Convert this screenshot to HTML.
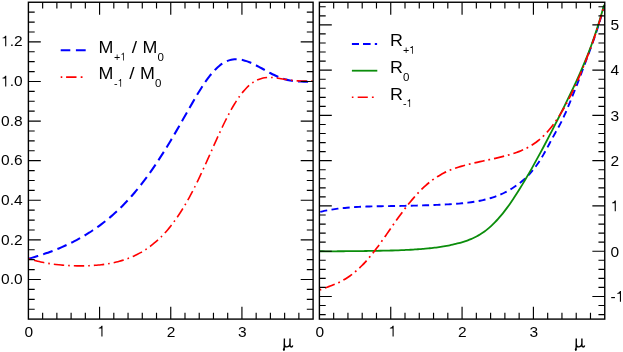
<!DOCTYPE html>
<html><head><meta charset="utf-8"><title>plot</title>
<style>html,body{margin:0;padding:0;background:#fff;}body{width:623px;height:352px;overflow:hidden;}svg{display:block;}text{font-family:"Liberation Sans",sans-serif;fill:#000;}</style></head><body>
<svg width="623" height="352" viewBox="0 0 623 352">
<rect x="0" y="0" width="623" height="352" fill="#fff"/>
<path d="M28.60,258.69C29.10,258.55 30.62,258.15 31.63,257.87C32.63,257.58 33.64,257.30 34.65,257.00C35.66,256.70 36.67,256.40 37.68,256.09C38.69,255.78 39.69,255.46 40.70,255.14C41.71,254.81 42.72,254.48 43.73,254.14C44.74,253.80 45.74,253.45 46.75,253.09C47.76,252.74 48.77,252.37 49.78,252.00C50.79,251.63 51.80,251.25 52.80,250.86C53.81,250.47 54.82,250.08 55.83,249.67C56.84,249.27 57.85,248.85 58.86,248.43C59.86,248.01 60.87,247.58 61.88,247.14C62.89,246.70 63.90,246.25 64.91,245.79C65.91,245.33 66.92,244.86 67.93,244.38C68.94,243.90 69.95,243.41 70.96,242.91C71.97,242.41 72.97,241.91 73.98,241.38C74.99,240.86 76.00,240.33 77.01,239.79C78.02,239.25 79.03,238.70 80.03,238.13C81.04,237.57 82.05,236.99 83.06,236.40C84.07,235.81 85.08,235.21 86.09,234.60C87.09,233.98 88.10,233.36 89.11,232.72C90.12,232.08 91.13,231.42 92.14,230.76C93.14,230.09 94.15,229.41 95.16,228.71C96.17,228.02 97.18,227.31 98.19,226.58C99.20,225.86 100.20,225.12 101.21,224.36C102.22,223.60 103.23,222.83 104.24,222.05C105.25,221.26 106.26,220.45 107.26,219.63C108.27,218.81 109.28,217.97 110.29,217.11C111.30,216.26 112.31,215.38 113.31,214.49C114.32,213.60 115.33,212.69 116.34,211.75C117.35,210.82 118.36,209.87 119.37,208.90C120.37,207.93 121.38,206.94 122.39,205.93C123.40,204.92 124.41,203.88 125.42,202.83C126.43,201.77 127.43,200.70 128.44,199.60C129.45,198.50 130.46,197.38 131.47,196.23C132.48,195.09 133.49,193.92 134.49,192.73C135.50,191.54 136.51,190.33 137.52,189.10C138.53,187.86 139.54,186.60 140.54,185.32C141.55,184.04 142.56,182.74 143.57,181.41C144.58,180.08 145.59,178.73 146.60,177.36C147.60,175.99 148.61,174.59 149.62,173.17C150.63,171.76 151.64,170.32 152.65,168.86C153.66,167.40 154.66,165.91 155.67,164.41C156.68,162.91 157.69,161.38 158.70,159.84C159.71,158.30 160.71,156.73 161.72,155.15C162.73,153.57 163.74,151.96 164.75,150.35C165.76,148.73 166.77,147.09 167.77,145.43C168.78,143.78 169.79,142.11 170.80,140.42C171.81,138.74 172.82,137.04 173.83,135.32C174.83,133.61 175.84,131.88 176.85,130.14C177.86,128.40 178.87,126.65 179.88,124.89C180.89,123.13 181.89,121.36 182.90,119.58C183.91,117.81 184.92,116.03 185.93,114.25C186.94,112.48 187.94,110.69 188.95,108.92C189.96,107.15 190.97,105.38 191.98,103.63C192.99,101.88 194.00,100.14 195.00,98.42C196.01,96.70 197.02,95.00 198.03,93.34C199.04,91.67 200.05,90.03 201.06,88.44C202.06,86.84 203.07,85.28 204.08,83.78C205.09,82.28 206.10,80.82 207.11,79.42C208.11,78.03 209.12,76.69 210.13,75.43C211.14,74.16 212.15,72.95 213.16,71.83C214.17,70.70 215.17,69.64 216.18,68.66C217.19,67.68 218.20,66.77 219.21,65.95C220.22,65.12 221.23,64.37 222.23,63.71C223.24,63.04 224.25,62.45 225.26,61.93C226.27,61.42 227.28,60.99 228.29,60.63C229.29,60.27 230.30,59.99 231.31,59.77C232.32,59.56 233.33,59.42 234.34,59.34C235.34,59.26 236.35,59.25 237.36,59.30C238.37,59.34 239.38,59.45 240.39,59.60C241.40,59.76 242.40,59.97 243.41,60.22C244.42,60.47 245.43,60.77 246.44,61.11C247.45,61.44 248.46,61.82 249.46,62.23C250.47,62.64 251.48,63.08 252.49,63.54C253.50,64.01 254.51,64.50 255.51,65.01C256.52,65.52 257.53,66.05 258.54,66.59C259.55,67.13 260.56,67.69 261.57,68.25C262.57,68.81 263.58,69.38 264.59,69.94C265.60,70.50 266.61,71.06 267.62,71.62C268.63,72.17 269.63,72.72 270.64,73.25C271.65,73.77 272.66,74.29 273.67,74.79C274.68,75.28 275.69,75.76 276.69,76.21C277.70,76.65 278.71,77.08 279.72,77.47C280.73,77.87 281.74,78.24 282.74,78.57C283.75,78.91 284.76,79.22 285.77,79.49C286.78,79.77 287.79,80.01 288.80,80.23C289.80,80.45 290.81,80.63 291.82,80.79C292.83,80.95 293.84,81.08 294.85,81.19C295.86,81.29 296.86,81.37 297.87,81.44C298.88,81.50 299.89,81.54 300.90,81.57C301.91,81.60 302.91,81.62 303.92,81.63C304.93,81.64 305.94,81.64 306.95,81.65C307.96,81.66 308.97,81.66 309.97,81.69C310.98,81.71 312.50,81.78 313.00,81.80" fill="none" stroke="#0000ff" stroke-width="2.05" stroke-dasharray="10 5.2" stroke-dashoffset="0"/>
<path d="M28.60,258.69C29.10,258.84 30.62,259.32 31.63,259.62C32.63,259.92 33.64,260.20 34.65,260.47C35.66,260.74 36.67,260.99 37.68,261.24C38.69,261.48 39.69,261.71 40.70,261.93C41.71,262.15 42.72,262.36 43.73,262.55C44.74,262.75 45.74,262.94 46.75,263.11C47.76,263.29 48.77,263.46 49.78,263.61C50.79,263.77 51.80,263.92 52.80,264.06C53.81,264.20 54.82,264.33 55.83,264.45C56.84,264.57 57.85,264.68 58.86,264.79C59.86,264.89 60.87,264.99 61.88,265.08C62.89,265.17 63.90,265.25 64.91,265.33C65.91,265.40 66.92,265.47 67.93,265.53C68.94,265.59 69.95,265.64 70.96,265.68C71.97,265.73 72.97,265.77 73.98,265.80C74.99,265.83 76.00,265.85 77.01,265.87C78.02,265.88 79.03,265.89 80.03,265.89C81.04,265.89 82.05,265.89 83.06,265.87C84.07,265.86 85.08,265.84 86.09,265.81C87.09,265.78 88.10,265.74 89.11,265.70C90.12,265.65 91.13,265.60 92.14,265.54C93.14,265.47 94.15,265.40 95.16,265.32C96.17,265.24 97.18,265.15 98.19,265.05C99.20,264.96 100.20,264.85 101.21,264.73C102.22,264.61 103.23,264.48 104.24,264.34C105.25,264.19 106.26,264.04 107.26,263.88C108.27,263.71 109.28,263.54 110.29,263.35C111.30,263.16 112.31,262.95 113.31,262.74C114.32,262.52 115.33,262.29 116.34,262.05C117.35,261.80 118.36,261.54 119.37,261.26C120.37,260.99 121.38,260.69 122.39,260.38C123.40,260.07 124.41,259.75 125.42,259.40C126.43,259.06 127.43,258.69 128.44,258.31C129.45,257.92 130.46,257.52 131.47,257.10C132.48,256.67 133.49,256.22 134.49,255.75C135.50,255.28 136.51,254.79 137.52,254.28C138.53,253.76 139.54,253.22 140.54,252.65C141.55,252.08 142.56,251.49 143.57,250.87C144.58,250.25 145.59,249.60 146.60,248.92C147.60,248.24 148.61,247.54 149.62,246.80C150.63,246.06 151.64,245.29 152.65,244.48C153.66,243.68 154.66,242.84 155.67,241.97C156.68,241.10 157.69,240.19 158.70,239.24C159.71,238.30 160.71,237.31 161.72,236.29C162.73,235.27 163.74,234.21 164.75,233.10C165.76,232.00 166.77,230.85 167.77,229.67C168.78,228.48 169.79,227.25 170.80,225.98C171.81,224.70 172.82,223.38 173.83,222.02C174.83,220.66 175.84,219.25 176.85,217.79C177.86,216.34 178.87,214.84 179.88,213.29C180.89,211.74 181.89,210.14 182.90,208.50C183.91,206.86 184.92,205.17 185.93,203.43C186.94,201.69 187.94,199.90 188.95,198.07C189.96,196.23 190.97,194.35 191.98,192.42C192.99,190.50 194.00,188.52 195.00,186.51C196.01,184.50 197.02,182.44 198.03,180.35C199.04,178.26 200.05,176.12 201.06,173.96C202.06,171.81 203.07,169.61 204.08,167.40C205.09,165.19 206.10,162.95 207.11,160.70C208.11,158.45 209.12,156.18 210.13,153.92C211.14,151.65 212.15,149.37 213.16,147.11C214.17,144.85 215.17,142.58 216.18,140.35C217.19,138.11 218.20,135.88 219.21,133.69C220.22,131.50 221.23,129.34 222.23,127.22C223.24,125.10 224.25,123.01 225.26,120.99C226.27,118.96 227.28,116.97 228.29,115.06C229.29,113.14 230.30,111.27 231.31,109.47C232.32,107.68 233.33,105.94 234.34,104.28C235.34,102.62 236.35,101.03 237.36,99.51C238.37,98.00 239.38,96.56 240.39,95.20C241.40,93.84 242.40,92.56 243.41,91.36C244.42,90.16 245.43,89.05 246.44,88.01C247.45,86.97 248.46,86.02 249.46,85.15C250.47,84.28 251.48,83.49 252.49,82.78C253.50,82.06 254.51,81.43 255.51,80.88C256.52,80.32 257.53,79.84 258.54,79.43C259.55,79.02 260.56,78.68 261.57,78.41C262.57,78.13 263.58,77.92 264.59,77.77C265.60,77.61 266.61,77.52 267.62,77.47C268.63,77.42 269.63,77.42 270.64,77.45C271.65,77.48 272.66,77.56 273.67,77.66C274.68,77.75 275.69,77.88 276.69,78.02C277.70,78.15 278.71,78.31 279.72,78.47C280.73,78.62 281.74,78.79 282.74,78.96C283.75,79.12 284.76,79.29 285.77,79.45C286.78,79.60 287.79,79.76 288.80,79.90C289.80,80.04 290.81,80.17 291.82,80.29C292.83,80.41 293.84,80.52 294.85,80.61C295.86,80.71 296.86,80.79 297.87,80.85C298.88,80.92 299.89,80.97 300.90,81.01C301.91,81.06 302.91,81.09 303.92,81.11C304.93,81.14 305.94,81.15 306.95,81.17C307.96,81.19 308.97,81.20 309.97,81.22C310.98,81.24 312.50,81.28 313.00,81.30" fill="none" stroke="#ff0000" stroke-width="1.6" stroke-dasharray="1.6 4.05 10.4 4.0" stroke-dashoffset="-0.15"/>
<path d="M319.60,212.09C320.10,211.96 321.62,211.59 322.63,211.35C323.64,211.12 324.65,210.90 325.66,210.69C326.67,210.49 327.68,210.29 328.69,210.10C329.70,209.91 330.71,209.74 331.71,209.57C332.72,209.40 333.73,209.24 334.74,209.09C335.75,208.94 336.76,208.80 337.77,208.67C338.78,208.54 339.79,208.41 340.80,208.29C341.81,208.18 342.82,208.07 343.83,207.97C344.84,207.86 345.85,207.77 346.86,207.68C347.87,207.59 348.88,207.50 349.89,207.42C350.90,207.34 351.91,207.27 352.92,207.20C353.93,207.14 354.94,207.07 355.94,207.02C356.95,206.96 357.96,206.90 358.97,206.85C359.98,206.80 360.99,206.76 362.00,206.71C363.01,206.67 364.02,206.63 365.03,206.60C366.04,206.56 367.05,206.53 368.06,206.49C369.07,206.46 370.08,206.44 371.09,206.41C372.10,206.38 373.11,206.36 374.12,206.34C375.13,206.31 376.14,206.29 377.15,206.27C378.16,206.25 379.16,206.24 380.17,206.22C381.18,206.20 382.19,206.19 383.20,206.17C384.21,206.15 385.22,206.14 386.23,206.12C387.24,206.11 388.25,206.10 389.26,206.08C390.27,206.07 391.28,206.05 392.29,206.04C393.30,206.03 394.31,206.01 395.32,206.00C396.33,205.98 397.34,205.97 398.35,205.95C399.36,205.94 400.37,205.92 401.38,205.91C402.39,205.89 403.39,205.87 404.40,205.85C405.41,205.83 406.42,205.82 407.43,205.80C408.44,205.78 409.45,205.75 410.46,205.73C411.47,205.71 412.48,205.69 413.49,205.66C414.50,205.64 415.51,205.61 416.52,205.59C417.53,205.56 418.54,205.53 419.55,205.50C420.56,205.48 421.57,205.45 422.58,205.41C423.59,205.38 424.60,205.35 425.61,205.32C426.61,205.28 427.62,205.25 428.63,205.21C429.64,205.18 430.65,205.14 431.66,205.10C432.67,205.07 433.68,205.03 434.69,204.99C435.70,204.95 436.71,204.90 437.72,204.86C438.73,204.82 439.74,204.77 440.75,204.73C441.76,204.68 442.77,204.63 443.78,204.58C444.79,204.53 445.80,204.48 446.81,204.42C447.82,204.36 448.83,204.30 449.84,204.24C450.84,204.18 451.85,204.12 452.86,204.05C453.87,203.98 454.88,203.91 455.89,203.83C456.90,203.75 457.91,203.67 458.92,203.59C459.93,203.50 460.94,203.41 461.95,203.31C462.96,203.21 463.97,203.11 464.98,203.00C465.99,202.89 467.00,202.77 468.01,202.65C469.02,202.52 470.03,202.39 471.04,202.25C472.05,202.11 473.06,201.96 474.06,201.80C475.07,201.63 476.08,201.47 477.09,201.28C478.10,201.10 479.11,200.91 480.12,200.71C481.13,200.50 482.14,200.29 483.15,200.06C484.16,199.83 485.17,199.58 486.18,199.32C487.19,199.06 488.20,198.79 489.21,198.50C490.22,198.21 491.23,197.91 492.24,197.58C493.25,197.26 494.26,196.92 495.27,196.55C496.28,196.19 497.29,195.81 498.29,195.41C499.30,195.01 500.31,194.58 501.32,194.14C502.33,193.69 503.34,193.22 504.35,192.73C505.36,192.23 506.37,191.71 507.38,191.17C508.39,190.62 509.40,190.05 510.41,189.45C511.42,188.85 512.43,188.22 513.44,187.56C514.45,186.90 515.46,186.21 516.47,185.49C517.48,184.77 518.49,184.01 519.50,183.22C520.51,182.43 521.51,181.60 522.52,180.73C523.53,179.86 524.54,178.95 525.55,177.99C526.56,177.03 527.57,176.03 528.58,174.97C529.59,173.91 530.60,172.81 531.61,171.63C532.62,170.46 533.63,169.23 534.64,167.92C535.65,166.61 536.66,165.25 537.67,163.79C538.68,162.33 539.69,160.80 540.70,159.19C541.71,157.58 542.72,155.87 543.73,154.12C544.74,152.37 545.74,150.53 546.75,148.68C547.76,146.83 548.77,144.90 549.78,143.02C550.79,141.13 551.80,139.23 552.81,137.37C553.82,135.52 554.83,133.71 555.84,131.89C556.85,130.08 557.86,128.33 558.87,126.47C559.88,124.61 560.89,122.76 561.90,120.72C562.91,118.68 563.92,116.49 564.93,114.22C565.94,111.95 566.95,109.51 567.96,107.09C568.96,104.67 569.97,102.18 570.98,99.71C571.99,97.23 573.00,94.76 574.01,92.23C575.02,89.71 576.03,87.16 577.04,84.56C578.05,81.97 579.06,79.32 580.07,76.67C581.08,74.01 582.09,71.31 583.10,68.62C584.11,65.92 585.12,63.21 586.13,60.49C587.14,57.78 588.15,55.06 589.16,52.30C590.17,49.55 591.18,46.80 592.19,43.99C593.19,41.17 594.20,38.35 595.21,35.41C596.22,32.46 597.23,29.49 598.24,26.31C599.25,23.13 600.26,19.88 601.27,16.33C602.28,12.78 603.80,6.89 604.30,5.00" fill="none" stroke="#0000ff" stroke-width="1.9" stroke-dasharray="7 4.35" stroke-dashoffset="-0.8"/>
<path d="M319.60,251.25C320.10,251.25 321.62,251.26 322.63,251.27C323.63,251.28 324.64,251.28 325.65,251.28C326.66,251.29 327.67,251.29 328.68,251.29C329.69,251.29 330.69,251.29 331.70,251.29C332.71,251.29 333.72,251.28 334.73,251.28C335.74,251.28 336.74,251.27 337.75,251.27C338.76,251.26 339.77,251.26 340.78,251.25C341.79,251.25 342.80,251.24 343.80,251.23C344.81,251.22 345.82,251.22 346.83,251.21C347.84,251.20 348.85,251.19 349.86,251.18C350.86,251.17 351.87,251.16 352.88,251.15C353.89,251.14 354.90,251.13 355.91,251.12C356.91,251.11 357.92,251.10 358.93,251.09C359.94,251.07 360.95,251.06 361.96,251.05C362.97,251.04 363.97,251.02 364.98,251.01C365.99,251.00 367.00,250.98 368.01,250.97C369.02,250.95 370.03,250.94 371.03,250.92C372.04,250.91 373.05,250.89 374.06,250.88C375.07,250.86 376.08,250.84 377.09,250.82C378.09,250.81 379.10,250.79 380.11,250.77C381.12,250.75 382.13,250.73 383.14,250.71C384.14,250.68 385.15,250.66 386.16,250.64C387.17,250.61 388.18,250.59 389.19,250.56C390.20,250.54 391.20,250.51 392.21,250.48C393.22,250.45 394.23,250.42 395.24,250.39C396.25,250.36 397.26,250.32 398.26,250.29C399.27,250.25 400.28,250.21 401.29,250.17C402.30,250.13 403.31,250.09 404.31,250.05C405.32,250.00 406.33,249.95 407.34,249.90C408.35,249.85 409.36,249.80 410.37,249.75C411.37,249.69 412.38,249.63 413.39,249.57C414.40,249.51 415.41,249.44 416.42,249.38C417.43,249.31 418.43,249.23 419.44,249.16C420.45,249.08 421.46,249.00 422.47,248.92C423.48,248.83 424.49,248.75 425.49,248.65C426.50,248.56 427.51,248.46 428.52,248.36C429.53,248.25 430.54,248.15 431.54,248.03C432.55,247.92 433.56,247.80 434.57,247.67C435.58,247.55 436.59,247.42 437.60,247.28C438.60,247.14 439.61,247.00 440.62,246.85C441.63,246.70 442.64,246.54 443.65,246.38C444.66,246.21 445.66,246.04 446.67,245.86C447.68,245.68 448.69,245.50 449.70,245.30C450.71,245.10 451.71,244.89 452.72,244.67C453.73,244.45 454.74,244.23 455.75,243.98C456.76,243.74 457.77,243.49 458.77,243.22C459.78,242.95 460.79,242.66 461.80,242.36C462.81,242.06 463.82,241.74 464.83,241.40C465.83,241.06 466.84,240.71 467.85,240.33C468.86,239.95 469.87,239.55 470.88,239.12C471.89,238.69 472.89,238.24 473.90,237.76C474.91,237.27 475.92,236.76 476.93,236.22C477.94,235.67 478.94,235.10 479.95,234.49C480.96,233.88 481.97,233.23 482.98,232.54C483.99,231.85 485.00,231.12 486.00,230.35C487.01,229.58 488.02,228.77 489.03,227.91C490.04,227.05 491.05,226.14 492.06,225.20C493.06,224.25 494.07,223.25 495.08,222.21C496.09,221.17 497.10,220.09 498.11,218.96C499.11,217.83 500.12,216.65 501.13,215.44C502.14,214.22 503.15,212.96 504.16,211.66C505.17,210.36 506.17,209.02 507.18,207.65C508.19,206.27 509.20,204.86 510.21,203.41C511.22,201.97 512.23,200.49 513.23,198.98C514.24,197.47 515.25,195.93 516.26,194.36C517.27,192.80 518.28,191.20 519.29,189.58C520.29,187.96 521.30,186.31 522.31,184.65C523.32,182.98 524.33,181.29 525.34,179.58C526.34,177.87 527.35,176.14 528.36,174.39C529.37,172.64 530.38,170.87 531.39,169.08C532.40,167.30 533.40,165.50 534.41,163.68C535.42,161.87 536.43,160.03 537.44,158.19C538.45,156.34 539.46,154.48 540.46,152.61C541.47,150.74 542.48,148.86 543.49,146.96C544.50,145.07 545.51,143.16 546.51,141.24C547.52,139.32 548.53,137.39 549.54,135.45C550.55,133.52 551.56,131.57 552.57,129.61C553.57,127.65 554.58,125.68 555.59,123.70C556.60,121.72 557.61,119.73 558.62,117.74C559.63,115.74 560.63,113.73 561.64,111.71C562.65,109.69 563.66,107.67 564.67,105.63C565.68,103.59 566.69,101.54 567.69,99.47C568.70,97.40 569.71,95.33 570.72,93.22C571.73,91.12 572.74,89.01 573.74,86.86C574.75,84.71 575.76,82.55 576.77,80.35C577.78,78.14 578.79,75.91 579.80,73.64C580.80,71.36 581.81,69.05 582.82,66.68C583.83,64.31 584.84,61.90 585.85,59.42C586.86,56.94 587.86,54.40 588.87,51.78C589.88,49.16 590.89,46.48 591.90,43.69C592.91,40.91 593.91,38.05 594.92,35.07C595.93,32.09 596.94,29.03 597.95,25.82C598.96,22.61 599.97,19.30 600.97,15.84C601.98,12.37 603.50,6.82 604.00,5.02" fill="none" stroke="#0b8d0b" stroke-width="1.8"/>
<path d="M319.60,290.01C320.10,289.81 321.62,289.23 322.63,288.85C323.64,288.47 324.65,288.11 325.66,287.74C326.67,287.37 327.68,287.01 328.69,286.64C329.70,286.27 330.71,285.89 331.71,285.50C332.72,285.10 333.73,284.70 334.74,284.28C335.75,283.85 336.76,283.41 337.77,282.94C338.78,282.47 339.79,281.98 340.80,281.46C341.81,280.94 342.82,280.40 343.83,279.82C344.84,279.24 345.85,278.63 346.86,277.98C347.87,277.34 348.88,276.66 349.89,275.94C350.90,275.22 351.91,274.47 352.92,273.68C353.93,272.89 354.94,272.06 355.94,271.19C356.95,270.32 357.96,269.41 358.97,268.46C359.98,267.52 360.99,266.53 362.00,265.50C363.01,264.48 364.02,263.42 365.03,262.32C366.04,261.22 367.05,260.08 368.06,258.91C369.07,257.74 370.08,256.54 371.09,255.30C372.10,254.06 373.11,252.79 374.12,251.50C375.13,250.20 376.14,248.87 377.15,247.52C378.16,246.18 379.16,244.80 380.17,243.41C381.18,242.02 382.19,240.60 383.20,239.18C384.21,237.76 385.22,236.32 386.23,234.88C387.24,233.43 388.25,231.98 389.26,230.53C390.27,229.08 391.28,227.63 392.29,226.18C393.30,224.73 394.31,223.29 395.32,221.86C396.33,220.43 397.34,219.00 398.35,217.60C399.36,216.19 400.37,214.80 401.38,213.42C402.39,212.05 403.39,210.69 404.40,209.36C405.41,208.03 406.42,206.72 407.43,205.44C408.44,204.16 409.45,202.90 410.46,201.67C411.47,200.44 412.48,199.24 413.49,198.07C414.50,196.90 415.51,195.76 416.52,194.65C417.53,193.54 418.54,192.47 419.55,191.43C420.56,190.39 421.57,189.38 422.58,188.41C423.59,187.44 424.60,186.50 425.61,185.60C426.61,184.70 427.62,183.83 428.63,183.00C429.64,182.17 430.65,181.37 431.66,180.61C432.67,179.84 433.68,179.12 434.69,178.42C435.70,177.73 436.71,177.06 437.72,176.43C438.73,175.80 439.74,175.21 440.75,174.64C441.76,174.07 442.77,173.53 443.78,173.02C444.79,172.50 445.80,172.02 446.81,171.56C447.82,171.10 448.83,170.66 449.84,170.24C450.84,169.83 451.85,169.43 452.86,169.06C453.87,168.68 454.88,168.32 455.89,167.98C456.90,167.64 457.91,167.31 458.92,167.00C459.93,166.68 460.94,166.39 461.95,166.10C462.96,165.81 463.97,165.53 464.98,165.26C465.99,164.99 467.00,164.73 468.01,164.48C469.02,164.23 470.03,163.98 471.04,163.74C472.05,163.50 473.06,163.26 474.06,163.03C475.07,162.80 476.08,162.57 477.09,162.35C478.10,162.12 479.11,161.90 480.12,161.68C481.13,161.45 482.14,161.23 483.15,161.01C484.16,160.79 485.17,160.57 486.18,160.35C487.19,160.13 488.20,159.91 489.21,159.68C490.22,159.46 491.23,159.24 492.24,159.01C493.25,158.78 494.26,158.56 495.27,158.32C496.28,158.09 497.29,157.86 498.29,157.62C499.30,157.38 500.31,157.14 501.32,156.89C502.33,156.64 503.34,156.39 504.35,156.13C505.36,155.86 506.37,155.60 507.38,155.32C508.39,155.04 509.40,154.75 510.41,154.45C511.42,154.15 512.43,153.84 513.44,153.51C514.45,153.18 515.46,152.84 516.47,152.48C517.48,152.12 518.49,151.75 519.50,151.35C520.51,150.95 521.51,150.53 522.52,150.08C523.53,149.64 524.54,149.17 525.55,148.67C526.56,148.17 527.57,147.65 528.58,147.09C529.59,146.53 530.60,145.94 531.61,145.30C532.62,144.67 533.63,144.01 534.64,143.30C535.65,142.59 536.66,141.84 537.67,141.04C538.68,140.24 539.69,139.40 540.70,138.51C541.71,137.61 542.72,136.67 543.73,135.68C544.74,134.68 545.74,133.63 546.75,132.53C547.76,131.43 548.77,130.27 549.78,129.05C550.79,127.84 551.80,126.56 552.81,125.23C553.82,123.90 554.83,122.51 555.84,121.06C556.85,119.60 557.86,118.09 558.87,116.52C559.88,114.95 560.89,113.32 561.90,111.62C562.91,109.93 563.92,108.18 564.93,106.36C565.94,104.55 566.95,102.67 567.96,100.74C568.96,98.81 569.97,96.81 570.98,94.76C571.99,92.71 573.00,90.60 574.01,88.44C575.02,86.28 576.03,84.06 577.04,81.78C578.05,79.51 579.06,77.18 580.07,74.80C581.08,72.43 582.09,70.00 583.10,67.52C584.11,65.04 585.12,62.51 586.13,59.93C587.14,57.35 588.15,54.72 589.16,52.01C590.17,49.31 591.18,46.56 592.19,43.73C593.19,40.89 594.20,37.99 595.21,34.99C596.22,31.99 597.23,28.92 598.24,25.72C599.25,22.51 600.26,19.23 601.27,15.78C602.28,12.33 603.80,6.83 604.30,5.04" fill="none" stroke="#ff0000" stroke-width="1.7" stroke-dasharray="1.8 4 10.4 3.86" stroke-dashoffset="0.05"/>
<path d="M42.64,319.1v-6.3M42.64,2.25v6.3M56.87,319.1v-6.3M56.87,2.25v6.3M71.11,319.1v-6.3M71.11,2.25v6.3M85.34,319.1v-6.3M85.34,2.25v6.3M113.81,319.1v-6.3M113.81,2.25v6.3M128.05,319.1v-6.3M128.05,2.25v6.3M142.28,319.1v-6.3M142.28,2.25v6.3M156.52,319.1v-6.3M156.52,2.25v6.3M184.99,319.1v-6.3M184.99,2.25v6.3M199.22,319.1v-6.3M199.22,2.25v6.3M213.46,319.1v-6.3M213.46,2.25v6.3M227.69,319.1v-6.3M227.69,2.25v6.3M256.16,319.1v-6.3M256.16,2.25v6.3M270.40,319.1v-6.3M270.40,2.25v6.3M284.63,319.1v-6.3M284.63,2.25v6.3M298.87,319.1v-6.3M298.87,2.25v6.3M28.4,309.20h6.3M313.1,309.20h-6.3M28.4,299.30h6.3M313.1,299.30h-6.3M28.4,289.40h6.3M313.1,289.40h-6.3M28.4,269.59h6.3M313.1,269.59h-6.3M28.4,259.69h6.3M313.1,259.69h-6.3M28.4,249.79h6.3M313.1,249.79h-6.3M28.4,229.99h6.3M313.1,229.99h-6.3M28.4,220.08h6.3M313.1,220.08h-6.3M28.4,210.18h6.3M313.1,210.18h-6.3M28.4,190.38h6.3M313.1,190.38h-6.3M28.4,180.48h6.3M313.1,180.48h-6.3M28.4,170.58h6.3M313.1,170.58h-6.3M28.4,150.77h6.3M313.1,150.77h-6.3M28.4,140.87h6.3M313.1,140.87h-6.3M28.4,130.97h6.3M313.1,130.97h-6.3M28.4,111.17h6.3M313.1,111.17h-6.3M28.4,101.27h6.3M313.1,101.27h-6.3M28.4,91.36h6.3M313.1,91.36h-6.3M28.4,71.56h6.3M313.1,71.56h-6.3M28.4,61.66h6.3M313.1,61.66h-6.3M28.4,51.76h6.3M313.1,51.76h-6.3M28.4,31.95h6.3M313.1,31.95h-6.3M28.4,22.05h6.3M313.1,22.05h-6.3M28.4,12.15h6.3M313.1,12.15h-6.3M99.58,319.1v-12.4M99.58,2.25v12.4M170.75,319.1v-12.4M170.75,2.25v12.4M241.93,319.1v-12.4M241.93,2.25v12.4M28.4,279.49h12.4M313.1,279.49h-12.4M28.4,239.89h12.4M313.1,239.89h-12.4M28.4,200.28h12.4M313.1,200.28h-12.4M28.4,160.68h12.4M313.1,160.68h-12.4M28.4,121.07h12.4M313.1,121.07h-12.4M28.4,81.46h12.4M313.1,81.46h-12.4M28.4,41.86h12.4M313.1,41.86h-12.4" stroke="#000" stroke-width="1.15" fill="none"/>
<path d="M333.67,319.1v-6.3M333.67,2.25v6.3M347.94,319.1v-6.3M347.94,2.25v6.3M362.20,319.1v-6.3M362.20,2.25v6.3M376.47,319.1v-6.3M376.47,2.25v6.3M405.00,319.1v-6.3M405.00,2.25v6.3M419.27,319.1v-6.3M419.27,2.25v6.3M433.54,319.1v-6.3M433.54,2.25v6.3M447.81,319.1v-6.3M447.81,2.25v6.3M476.34,319.1v-6.3M476.34,2.25v6.3M490.61,319.1v-6.3M490.61,2.25v6.3M504.88,319.1v-6.3M504.88,2.25v6.3M519.14,319.1v-6.3M519.14,2.25v6.3M547.68,319.1v-6.3M547.68,2.25v6.3M561.95,319.1v-6.3M561.95,2.25v6.3M576.22,319.1v-6.3M576.22,2.25v6.3M590.48,319.1v-6.3M590.48,2.25v6.3M319.4,314.57h6.3M604.75,314.57h-6.3M319.4,305.52h6.3M604.75,305.52h-6.3M319.4,287.42h6.3M604.75,287.42h-6.3M319.4,278.36h6.3M604.75,278.36h-6.3M319.4,269.31h6.3M604.75,269.31h-6.3M319.4,260.26h6.3M604.75,260.26h-6.3M319.4,242.15h6.3M604.75,242.15h-6.3M319.4,233.10h6.3M604.75,233.10h-6.3M319.4,224.05h6.3M604.75,224.05h-6.3M319.4,214.99h6.3M604.75,214.99h-6.3M319.4,196.89h6.3M604.75,196.89h-6.3M319.4,187.83h6.3M604.75,187.83h-6.3M319.4,178.78h6.3M604.75,178.78h-6.3M319.4,169.73h6.3M604.75,169.73h-6.3M319.4,151.62h6.3M604.75,151.62h-6.3M319.4,142.57h6.3M604.75,142.57h-6.3M319.4,133.52h6.3M604.75,133.52h-6.3M319.4,124.46h6.3M604.75,124.46h-6.3M319.4,106.36h6.3M604.75,106.36h-6.3M319.4,97.30h6.3M604.75,97.30h-6.3M319.4,88.25h6.3M604.75,88.25h-6.3M319.4,79.20h6.3M604.75,79.20h-6.3M319.4,61.09h6.3M604.75,61.09h-6.3M319.4,52.04h6.3M604.75,52.04h-6.3M319.4,42.99h6.3M604.75,42.99h-6.3M319.4,33.94h6.3M604.75,33.94h-6.3M319.4,15.83h6.3M604.75,15.83h-6.3M319.4,6.78h6.3M604.75,6.78h-6.3M390.74,319.1v-12.4M390.74,2.25v12.4M462.07,319.1v-12.4M462.07,2.25v12.4M533.41,319.1v-12.4M533.41,2.25v12.4M319.4,296.47h12.4M604.75,296.47h-12.4M319.4,251.20h12.4M604.75,251.20h-12.4M319.4,205.94h12.4M604.75,205.94h-12.4M319.4,160.68h12.4M604.75,160.68h-12.4M319.4,115.41h12.4M604.75,115.41h-12.4M319.4,70.15h12.4M604.75,70.15h-12.4M319.4,24.88h12.4M604.75,24.88h-12.4" stroke="#000" stroke-width="1.15" fill="none"/>
<rect x="28.4" y="2.25" width="284.70" height="316.85" fill="none" stroke="#000" stroke-width="1.4"/>
<rect x="319.4" y="2.25" width="285.35" height="316.85" fill="none" stroke="#000" stroke-width="1.4"/>
<path d="M60.7,50.3H70.3M75.9,50.3H85.7" stroke="#0000ff" stroke-width="2.05" fill="none"/>
<path d="M60.7,77.1H62.3M66.1,77.1H76.5M80.7,77.1H82.5" stroke="#ff0000" stroke-width="1.6" fill="none"/>
<path d="M351.9,44.05H359.0M363.0,44.05H370.6M374.8,44.05H377.1" stroke="#0000ff" stroke-width="1.9" fill="none"/>
<path d="M351.9,70.7H377.3" stroke="#0b8d0b" stroke-width="1.8" fill="none"/>
<path d="M351.85,97.25H353.45M357.7,97.25H367.8M371.9,97.25H373.7" stroke="#ff0000" stroke-width="1.7" fill="none"/>
<g style="will-change:opacity;opacity:0.999">
<text x="0" y="0" font-size="15.5" transform="translate(1.05,284.29) scale(1.0,1)">0.0</text>
<text x="0" y="0" font-size="15.5" transform="translate(1.05,244.69) scale(1.0,1)">0.2</text>
<text x="0" y="0" font-size="15.5" transform="translate(1.05,205.08) scale(1.0,1)">0.4</text>
<text x="0" y="0" font-size="15.5" transform="translate(1.05,165.48) scale(1.0,1)">0.6</text>
<text x="0" y="0" font-size="15.5" transform="translate(1.05,125.87) scale(1.0,1)">0.8</text>
<path d="M545,0L545,1065L190,1065L190,1135C340,1150 490,1260 560,1409L690,1409L690,0Z" fill="#000" transform="translate(1.05,86.46) scale(0.007568,-0.007568)"/>
<text x="0" y="0" font-size="15.5" transform="translate(9.67,86.46) scale(1.0,1)">.0</text>
<path d="M545,0L545,1065L190,1065L190,1135C340,1150 490,1260 560,1409L690,1409L690,0Z" fill="#000" transform="translate(1.05,46.36) scale(0.007568,-0.007568)"/>
<text x="0" y="0" font-size="15.5" transform="translate(9.67,46.36) scale(1.0,1)">.2</text>
<text x="0" y="0" font-size="15.5" transform="translate(24.39,336.5) scale(1.0,1)">0</text>
<text x="0" y="0" font-size="15.5" transform="translate(315.39,336.5) scale(1.0,1)">0</text>
<path d="M545,0L545,1065L190,1065L190,1135C340,1150 490,1260 560,1409L690,1409L690,0Z" fill="#000" transform="translate(97.27,336.5) scale(0.007568,-0.007568)"/>
<path d="M545,0L545,1065L190,1065L190,1135C340,1150 490,1260 560,1409L690,1409L690,0Z" fill="#000" transform="translate(388.43,336.5) scale(0.007568,-0.007568)"/>
<text x="0" y="0" font-size="15.5" transform="translate(166.74,336.5) scale(1.0,1)">2</text>
<text x="0" y="0" font-size="15.5" transform="translate(458.07,336.5) scale(1.0,1)">2</text>
<text x="0" y="0" font-size="15.5" transform="translate(237.92,336.5) scale(1.0,1)">3</text>
<text x="0" y="0" font-size="15.5" transform="translate(529.40,336.5) scale(1.0,1)">3</text>
<text x="0" y="0" font-size="15.5" transform="translate(610.60,301.77) scale(1.0,1)">-</text>
<path d="M545,0L545,1065L190,1065L190,1135C340,1150 490,1260 560,1409L690,1409L690,0Z" fill="#000" transform="translate(615.76,301.77) scale(0.007568,-0.007568)"/>
<text x="0" y="0" font-size="15.5" transform="translate(610.60,256.5) scale(1.0,1)">0</text>
<path d="M545,0L545,1065L190,1065L190,1135C340,1150 490,1260 560,1409L690,1409L690,0Z" fill="#000" transform="translate(610.60,211.24) scale(0.007568,-0.007568)"/>
<text x="0" y="0" font-size="15.5" transform="translate(610.60,165.98) scale(1.0,1)">2</text>
<text x="0" y="0" font-size="15.5" transform="translate(610.60,120.71) scale(1.0,1)">3</text>
<text x="0" y="0" font-size="15.5" transform="translate(610.60,75.45) scale(1.0,1)">4</text>
<text x="0" y="0" font-size="15.5" transform="translate(610.60,30.18) scale(1.0,1)">5</text>
<path d="M284.40,338.40L284.30,346.30C284.30,347.90 284.00,349.30 283.75,350.30M284.35,343.90C284.40,346.20 285.30,346.85 286.60,346.85C288.30,346.85 289.80,345.50 289.95,343.50M290.00,338.40L290.00,345.10C290.00,346.60 290.60,347.00 291.30,347.00C292.00,347.00 292.50,346.40 292.75,345.50" fill="none" stroke="#000" stroke-width="1.4" stroke-linecap="butt" stroke-linejoin="round"/>
<ellipse cx="283.85" cy="349.50" rx="0.95" ry="1.35" fill="#000"/>
<path d="M576.30,338.40L576.20,346.30C576.20,347.90 575.90,349.30 575.65,350.30M576.25,343.90C576.30,346.20 577.20,346.85 578.50,346.85C580.20,346.85 581.70,345.50 581.85,343.50M581.90,338.40L581.90,345.10C581.90,346.60 582.50,347.00 583.20,347.00C583.90,347.00 584.40,346.40 584.65,345.50" fill="none" stroke="#000" stroke-width="1.4" stroke-linecap="butt" stroke-linejoin="round"/>
<ellipse cx="575.75" cy="349.50" rx="0.95" ry="1.35" fill="#000"/>
<text x="0" y="0" font-size="16.7" transform="translate(98.50,52.6) scale(1.07,1)">M</text>
<text x="0" y="0" font-size="11.3" transform="translate(113.90,60.5) scale(0.95,1)">+</text>
<path d="M545,0L545,1065L190,1065L190,1135C340,1150 490,1260 560,1409L690,1409L690,0Z" fill="#000" transform="translate(120.17,60.5) scale(0.005242,-0.005518)"/>
<text x="0" y="0" font-size="16.7" transform="translate(131.70,52.9) scale(1.15,1)">/</text>
<text x="0" y="0" font-size="16.7" transform="translate(142.60,52.6) scale(1.07,1)">M</text>
<text x="0" y="0" font-size="11.3" transform="translate(157.40,60.5) scale(1.02,1)">0</text>
<text x="0" y="0" font-size="16.7" transform="translate(98.50,78.8) scale(1.07,1)">M</text>
<text x="0" y="0" font-size="11.3" transform="translate(113.90,86.7) scale(0.95,1)">-</text>
<path d="M545,0L545,1065L190,1065L190,1135C340,1150 490,1260 560,1409L690,1409L690,0Z" fill="#000" transform="translate(117.47,86.7) scale(0.005242,-0.005518)"/>
<text x="0" y="0" font-size="16.7" transform="translate(129.20,79.1) scale(1.15,1)">/</text>
<text x="0" y="0" font-size="16.7" transform="translate(140.10,78.8) scale(1.07,1)">M</text>
<text x="0" y="0" font-size="11.3" transform="translate(154.90,86.7) scale(1.02,1)">0</text>
<text x="0" y="0" font-size="16.7" transform="translate(389.90,46.4) scale(1.07,1)">R</text>
<text x="0" y="0" font-size="11.3" transform="translate(402.90,53.8) scale(0.95,1)">+</text>
<path d="M545,0L545,1065L190,1065L190,1135C340,1150 490,1260 560,1409L690,1409L690,0Z" fill="#000" transform="translate(409.17,53.8) scale(0.005242,-0.005518)"/>
<text x="0" y="0" font-size="16.7" transform="translate(389.90,73.1) scale(1.07,1)">R</text>
<text x="0" y="0" font-size="11.3" transform="translate(402.90,80.5) scale(1.02,1)">0</text>
<text x="0" y="0" font-size="16.7" transform="translate(389.90,99.7) scale(1.07,1)">R</text>
<text x="0" y="0" font-size="11.3" transform="translate(402.90,107.10000000000001) scale(0.95,1)">-</text>
<path d="M545,0L545,1065L190,1065L190,1135C340,1150 490,1260 560,1409L690,1409L690,0Z" fill="#000" transform="translate(406.47,107.10000000000001) scale(0.005242,-0.005518)"/>
</g>
</svg></body></html>
